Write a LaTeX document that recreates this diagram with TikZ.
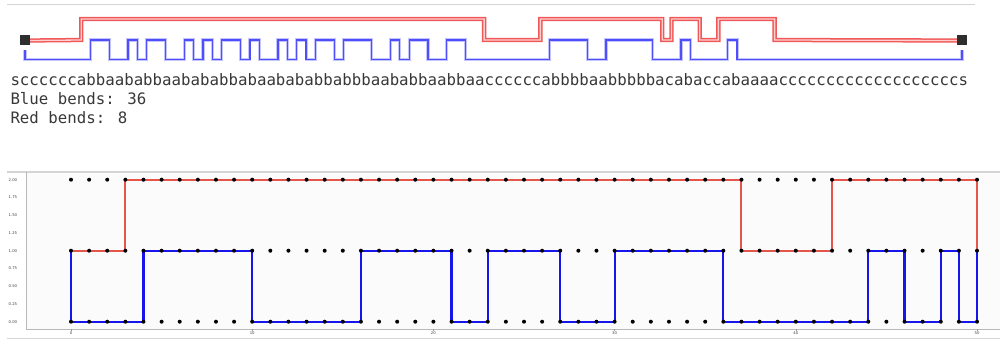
\documentclass[tikz,border=0pt]{standalone}
\usepackage{fontspec}
\usepackage{xcolor}
\usepackage{tikz}
\usetikzlibrary{positioning}

\newfontfamily\seqmono{DejaVu Sans Mono}
\newfontfamily\axisfont{DejaVu Sans}

\definecolor{wirered}{RGB}{240,88,88}
\definecolor{wirepink}{RGB}{255,208,208}
\definecolor{wireblue}{RGB}{78,78,250}
\definecolor{wirehalo}{RGB}{196,196,255}
\definecolor{plotred}{RGB}{228,86,74}
\definecolor{plotblue}{RGB}{22,22,236}
\definecolor{rulegray}{RGB}{212,212,212}

\begin{document}
\begin{tikzpicture}[
    x=1pt, y=-1pt,
    pad/.style={
        rectangle,
        fill=black!82,
        minimum size=10pt,
        inner sep=0pt
    },
    redwire/.style={
        draw=wirered,
        line width=1.5pt,
        double=wirepink,
        double distance=1.3pt
    },
    bluewire/.style={
        draw=wireblue,
        line width=1.3pt,
        preaction={draw=wirehalo, line width=3.2pt}
    },
    readout/.style={
        font=\seqmono\fontsize{15.75pt}{18.7pt}\selectfont,
        text=black!78,
        inner sep=0pt,
        anchor=base west
    },
    tracered/.style={draw=plotred, line width=2pt},
    traceblue/.style={draw=plotblue, line width=2.1pt},
    ticklab/.style={
        font=\axisfont\fontsize{3.8pt}{4pt}\selectfont,
        text=black!75,
        inner sep=0pt
    }
]
\useasboundingbox (0,0) rectangle (1000,339);

% Top rule
\draw[rulegray, line width=1pt] (7,5) -- (975,5);

% Channel schematic (one unit per letter)
\begin{scope}[x=9.37pt, shift={(25pt,0pt)}]
    \node[pad] (sqL) at (0,40.5) {};
    \node[pad] (sqR) at (100,40.5) {};

    \draw[redwire] (sqL.east)
        foreach \d/\u in {6/49, 55/68, 69/72, 74/80} {
            -- (\d,40) -- (\d,19) -- (\u,19) -- (\u,40)
        } -- (sqR.west);

    \draw[bluewire] ([yshift=-4pt]sqL.south) -- (0,59.5)
        foreach \a/\b in {7/9, 11/12, 13/15, 17/18, 19/20, 21/23, 24/25, 27/28, 29/30,
                          31/33, 34/37, 39/40, 41/43, 45/47, 56/60, 62/67, 70/71, 75/76} {
            -- (\a,59.5) -- (\a,40) -- (\b,40) -- (\b,59.5)
        } -- (100,59.5) -- ([yshift=-4pt]sqR.south);
\end{scope}

% Letter sequence and counts
\node[readout] (seq) at (10.3,86) {sccccccabb%
aababbaaba%
babbabaaba%
babbabbbaa%
babbaabbaa%
ccccccabbb%
baabbbbbac%
abaccabaaa%
accccccccc%
cccccccccc%
s};
\node[readout, below=18.8pt of seq.base west, anchor=base west] (bluecount) {Blue bends: 36};
\node[readout, below=18.6pt of bluecount.base west, anchor=base west] (redcount) {Red bends: 8};

% Plot frame
\fill[black!1.5] (26,172) rectangle (1000,329);
\draw[rulegray, line width=1.5pt] (7,172) -- (1000,172);
\draw[black!28, line width=0.8pt] (26,172) -- (26,329) -- (1000,329);
\draw[rulegray, line width=1pt] (7,338) -- (1000,338);

\begin{scope}[shift={(71pt,-321.7pt)}, x=18.12pt, y=71pt]
    % y labels
    \foreach \v/\t [count=\k] in {0/0.00, 0.25/0.25, 0.5/0.50, 0.75/0.75, 1/1.00,
                                  1.25/1.25, 1.5/1.50, 1.75/1.75, 2/2.00}
        \node[ticklab, anchor=east] (ylab\k) at (-2.96,\v) {\t};

    % x ticks and labels
    \foreach \v in {0,10,...,50} {
        \draw[black!40, line width=0.4pt] (\v,-0.103) -- (\v,-0.13);
        \node[ticklab] (xlab\v) at (\v,-0.165) {\v};
    }

    % Red and blue traces
    \draw[tracered] (0,1) -- (3,1) -- (3,2) -- (37,2) -- (37,1) -- (42,1) -- (42,2) -- (50,2) -- (50,1);
    \draw[traceblue] (0,1) -- (0,0) -- (4,0) -- (4,1) -- (10,1) -- (10,0) -- (16,0) -- (16,1)
        -- (21,1) -- (21,0) -- (23,0) -- (23,1) -- (27,1) -- (27,0) -- (30,0) -- (30,1)
        -- (36,1) -- (36,0) -- (44,0) -- (44,1) -- (46,1) -- (46,0) -- (48,0) -- (48,1)
        -- (49,1) -- (49,0) -- (50,0) -- (50,1);

    % Lattice points
    \foreach \i in {0,...,50}
        \foreach \j in {0,1,2}
            \fill (\i,\j) circle[radius=2pt];
\end{scope}

\end{tikzpicture}
\end{document}
